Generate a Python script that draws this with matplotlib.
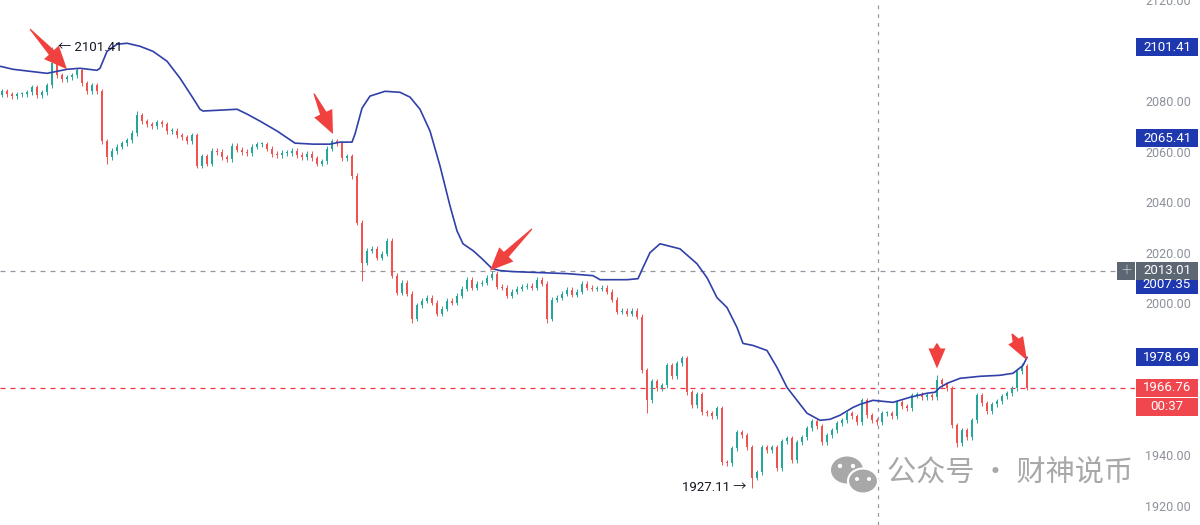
import matplotlib
matplotlib.use("Agg")
import numpy as np
import matplotlib.pyplot as plt
from matplotlib.patches import Rectangle, Ellipse, Circle, Polygon

plt.rcParams['font.family'] = ['Roboto', 'Noto Sans CJK SC', 'DejaVu Sans']

# ---------------- data ----------------
closes = [
    2083.9, 2082.8, 2082.0, 2082.8, 2082.8, 2083.5, 2085.5, 2082.4, 2083.5, 2086.3,
    2095.0, 2090.3, 2088.7, 2089.5, 2090.3, 2092.2, 2087.1, 2083.9, 2086.3, 2083.9,
    2064.2, 2057.9, 2060.3, 2061.9, 2063.4, 2064.6, 2067.4, 2074.5, 2072.1, 2070.9,
    2070.1, 2071.7, 2070.9, 2068.2, 2068.2, 2066.6, 2065.8, 2064.2, 2066.6, 2054.4,
    2058.3, 2055.2, 2060.3, 2059.9, 2057.9, 2057.1, 2062.3, 2060.7, 2059.9, 2059.5,
    2061.9, 2063.0, 2063.0, 2061.1, 2059.1, 2058.7, 2059.5, 2059.5, 2060.3, 2058.7,
    2057.9, 2059.1, 2057.5, 2055.2, 2056.3, 2061.1, 2064.2, 2063.4, 2057.5, 2058.3,
    2050.4, 2031.9, 2016.1, 2020.9, 2021.6, 2018.1, 2019.7, 2024.8, 2011.0, 2004.3,
    2008.2, 2003.9, 1994.0, 1999.2, 2001.1, 2002.3, 2000.3, 1996.0, 1998.0, 2001.1,
    2000.3, 2003.1, 2005.9, 2009.4, 2006.3, 2007.8, 2008.2, 2010.2, 2011.8, 2006.7,
    2006.3, 2003.1, 2004.7, 2005.9, 2006.7, 2007.1, 2006.3, 2009.4, 2007.8, 1994.0,
    2001.5, 2002.3, 2003.9, 2005.5, 2003.5, 2004.7, 2007.8, 2006.3, 2005.9, 2005.9,
    2006.3, 2004.7, 2001.5, 1996.8, 1997.2, 1996.0, 1997.2, 1994.8, 1973.5, 1961.7,
    1969.2, 1966.4, 1967.6, 1975.5, 1971.2, 1976.3, 1978.3, 1964.9, 1959.7, 1964.1,
    1957.0, 1956.6, 1955.4, 1958.6, 1937.3, 1936.9, 1942.8, 1949.1, 1947.9, 1943.2,
    1931.0, 1933.3, 1943.2, 1942.0, 1943.2, 1934.9, 1945.5, 1946.7, 1938.1, 1945.2,
    1947.1, 1950.7, 1953.4, 1951.5, 1945.2, 1947.9, 1949.9, 1952.6, 1953.8, 1956.6,
    1955.4, 1953.0, 1961.7, 1955.8, 1953.8, 1953.0, 1956.6, 1956.6, 1955.4, 1960.9,
    1959.3, 1958.6, 1963.7, 1964.1, 1962.9, 1963.7, 1962.9, 1969.6, 1968.0, 1966.4,
    1951.9, 1944.8, 1949.9, 1947.1, 1953.8, 1963.7, 1960.5, 1957.4, 1960.1, 1961.3,
    1963.3, 1964.5, 1966.4, 1973.1, 1975.1, 1966.76,
]
first_open = 2082.5
high_override = {10: 2101.41, 187: 1971.6, 204: 1976.3, 27: 2076.0}
low_override = {21: 2055.2, 39: 2053.6, 72: 2009.0, 82: 1992.1, 109: 1992.1,
                129: 1956.6, 150: 1927.11, 191: 1943.2}

# smoothed blue indicator line (candle index, price)
blue_x = [-0.4, 2.2, 9.0, 13.0, 15.6, 19.0, 19.6, 21.0, 23.0, 25.0, 27.6, 30.2, 33.0,
          35.6, 38.2, 39.6, 40.2, 44.2, 47.0, 49.0, 51.6, 55.0, 58.6, 62.2, 65.6, 67.6,
          70.0, 70.6, 72.0, 73.6, 76.6, 79.6, 81.6, 83.6, 85.6, 87.6, 89.6, 91.0, 92.2,
          94.2, 96.0, 98.0, 99.6, 102.2, 107.6, 113.0, 118.2, 119.6, 125.0, 127.2, 128.2,
          129.6, 131.6, 135.6, 139.0, 141.0, 143.0, 145.0, 147.0, 148.2, 150.2, 153.0,
          155.0, 157.0, 159.0, 161.0, 163.6, 165.6, 167.6, 170.2, 171.6, 174.2, 178.2,
          181.6, 185.0, 186.6, 187.6, 189.0, 191.6, 195.6, 199.6, 202.2, 204.2, 205.0]
blue_y = [2093.8, 2092.6, 2091.0, 2092.6, 2093.0, 2092.2, 2093.0, 2099.7, 2102.5, 2102.9,
          2101.7, 2099.7, 2095.8, 2089.1, 2081.2, 2076.8, 2076.1, 2076.5, 2076.8, 2074.9,
          2072.1, 2068.2, 2063.4, 2063.0, 2063.0, 2063.8, 2063.8, 2067.0, 2077.2, 2082.0,
          2083.9, 2083.5, 2081.6, 2076.8, 2068.2, 2054.4, 2038.6, 2028.7, 2023.6, 2020.9,
          2017.7, 2013.8, 2013.0, 2012.6, 2012.2, 2011.8, 2011.0, 2009.4, 2009.4, 2009.8,
          2014.2, 2020.1, 2023.6, 2021.6, 2015.7, 2010.2, 2002.3, 1998.4, 1990.5, 1984.2,
          1983.4, 1981.4, 1974.7, 1966.8, 1961.7, 1956.6, 1953.8, 1954.2, 1955.8, 1958.9,
          1960.1, 1961.7, 1960.9, 1962.9, 1964.5, 1964.9, 1966.8, 1968.4, 1970.4, 1971.2,
          1971.6, 1972.4, 1975.5, 1978.69]

# visible price-scale ticks (2100, 1980 and 1960 are hidden under value boxes)
price_ticks = [1920, 1940, 2000, 2020, 2040, 2060, 2080, 2120]
blue_labels = [2101.41, 2065.41, 2007.35, 1978.69]
crosshair_price = 2013.01
crosshair_index = 175.2
last_price = 1966.76
countdown = "00:37"
high_label = 2101.41
high_label_index = 11.2
low_label = 1927.11
low_label_index = 148.8

# red arrows: (tail index, tail price, head index, head price)
arrows = [
    (5.6, 2108.5, 13.0, 2092.6),
    (62.4, 2083.0, 66.2, 2067.0),
    (106.0, 2029.5, 97.6, 2013.0),
    (187.0, 1984.2, 187.0, 1974.3),
    (202.0, 1988.0, 205.0, 1977.5),
]

# ---------------- figure ----------------
W, H = 1200, 525
fig = plt.figure(figsize=(W / 100, H / 100), dpi=100)
fig.patch.set_facecolor('white')
AX_W = 1135
ax = fig.add_axes([0, 0, AX_W / W, 1])
ax.set_facecolor('white')
ax.set_xlim(-0.4, 226.6)
ax.set_ylim(1912.4, 2119.43)
for s in ax.spines.values():
    s.set_visible(False)
ax.set_xticks([])

UP, DN = '#26a69a', '#ef5350'
opens = [first_open] + closes[:-1]
idx = list(range(len(closes)))
highs, lows, cols, bottoms, heights = [], [], [], [], []
for i, (o, c) in enumerate(zip(opens, closes)):
    hi = high_override.get(i, max(o, c) + 1.0)
    lo = low_override.get(i, min(o, c) - 1.0)
    highs.append(hi)
    lows.append(lo)
    cols.append(UP if c >= o else DN)
    bottoms.append(min(o, c))
    heights.append(max(abs(c - o), 0.3))

ax.vlines(idx, lows, highs, colors=cols, linewidth=0.7, zorder=2)
ax.bar(idx, heights, bottom=bottoms, width=0.5, color=cols, linewidth=0, zorder=3)

ax.plot(blue_x, blue_y, color='#3040a8', linewidth=1.2, zorder=4)

# crosshair & last price line
ax.axhline(crosshair_price, color='#9598a1', linewidth=0.9, linestyle=(0, (4, 4)), zorder=1)
ax.axvline(crosshair_index, color='#9598a1', linewidth=0.9, linestyle=(0, (3, 4)), zorder=1)
ax.axhline(last_price, color='#f23645', linewidth=0.9, linestyle=(0, (4, 4)), zorder=1)

# price scale ticks
ax.yaxis.tick_right()
ax.set_yticks(price_ticks)
ax.set_yticklabels([f'{t:.2f}' for t in price_ticks])
ax.tick_params(axis='y', length=0, pad=7.5, labelsize=9, labelcolor='#8c919a')

# high / low annotations
ax.text(high_label_index, high_label, '\u2190 ' + f'{high_label:.2f}', fontsize=9.5,
        color='#131722', va='center', ha='left', zorder=6)
ax.text(low_label_index, low_label, f'{low_label:.2f}' + ' \u2192', fontsize=9.5,
        color='#131722', va='center', ha='right', zorder=6)

fig.canvas.draw()

# red arrows: thin tail widening to a shaft, then a triangular head (display px)
for tx, ty, hx, hy in arrows:
    T = ax.transData.transform((tx, ty))
    P = ax.transData.transform((hx, hy))
    d = P - T
    length = np.hypot(*d)
    d = d / length
    n = np.array([-d[1], d[0]])
    head_len = min(23.0, length * 0.8)
    head_half = 10.0 if length > 40 else 8.5
    shaft_half = 3.5
    B = P - d * head_len
    pts = [T + n * 0.6, B + n * shaft_half, B + n * head_half, P,
           B - n * head_half, B - n * shaft_half, T - n * 0.6]
    fig.add_artist(Polygon(pts, closed=True, transform=None, facecolor='#f0413e',
                           edgecolor='none', zorder=7))


def ypix(p):
    return ax.transData.transform((0, p))[1]


def box(price, text, color, y_offset=0):
    yp = ypix(price) + y_offset
    fig.add_artist(Rectangle((1136, yp - 9), 62, 18, transform=None,
                             facecolor=color, edgecolor='none', zorder=5))
    fig.text(1167 / W, yp / H, text, color='white', fontsize=9.5,
             ha='center', va='center', zorder=6)


for p in blue_labels:
    box(p, f'{p:.2f}', '#1e38b0')
box(crosshair_price, f'{crosshair_price:.2f}', '#5d6673')
box(last_price, f'{last_price:.2f}', '#f0474f')
box(last_price, countdown, '#f0474f', y_offset=-19)

# crosshair '+' button
yc = ypix(crosshair_price)
fig.add_artist(Rectangle((1117, yc - 9), 18, 18, transform=None,
                         facecolor='#5d6673', edgecolor='none', zorder=5))
fig.text(1126 / W, yc / H, '+', color='white', fontsize=13, ha='center', va='center',
         zorder=6, fontweight='light')

# ---- watermark ----
gray = '#a8a8a8'
fig.add_artist(Ellipse((847, H - 470), 32, 27, transform=None, facecolor=gray,
                       edgecolor='none', zorder=8))
for ex in (840, 853):
    fig.add_artist(Circle((ex, H - 466), 2.2, transform=None, facecolor='white', zorder=9))
fig.add_artist(Ellipse((863, H - 481), 30, 25, transform=None, facecolor=gray,
                       edgecolor='white', linewidth=1.5, zorder=9))
for ex in (857, 869):
    fig.add_artist(Circle((ex, H - 479), 2.0, transform=None, facecolor='white', zorder=10))
fig.text(887 / W, 1 - 474 / H, '公众号 · 财神说币', fontsize=21, color=gray,
         family=['Noto Sans CJK SC', 'DejaVu Sans'], ha='left', va='center', zorder=10)

fig.savefig('out.png', dpi=100, facecolor='white')
